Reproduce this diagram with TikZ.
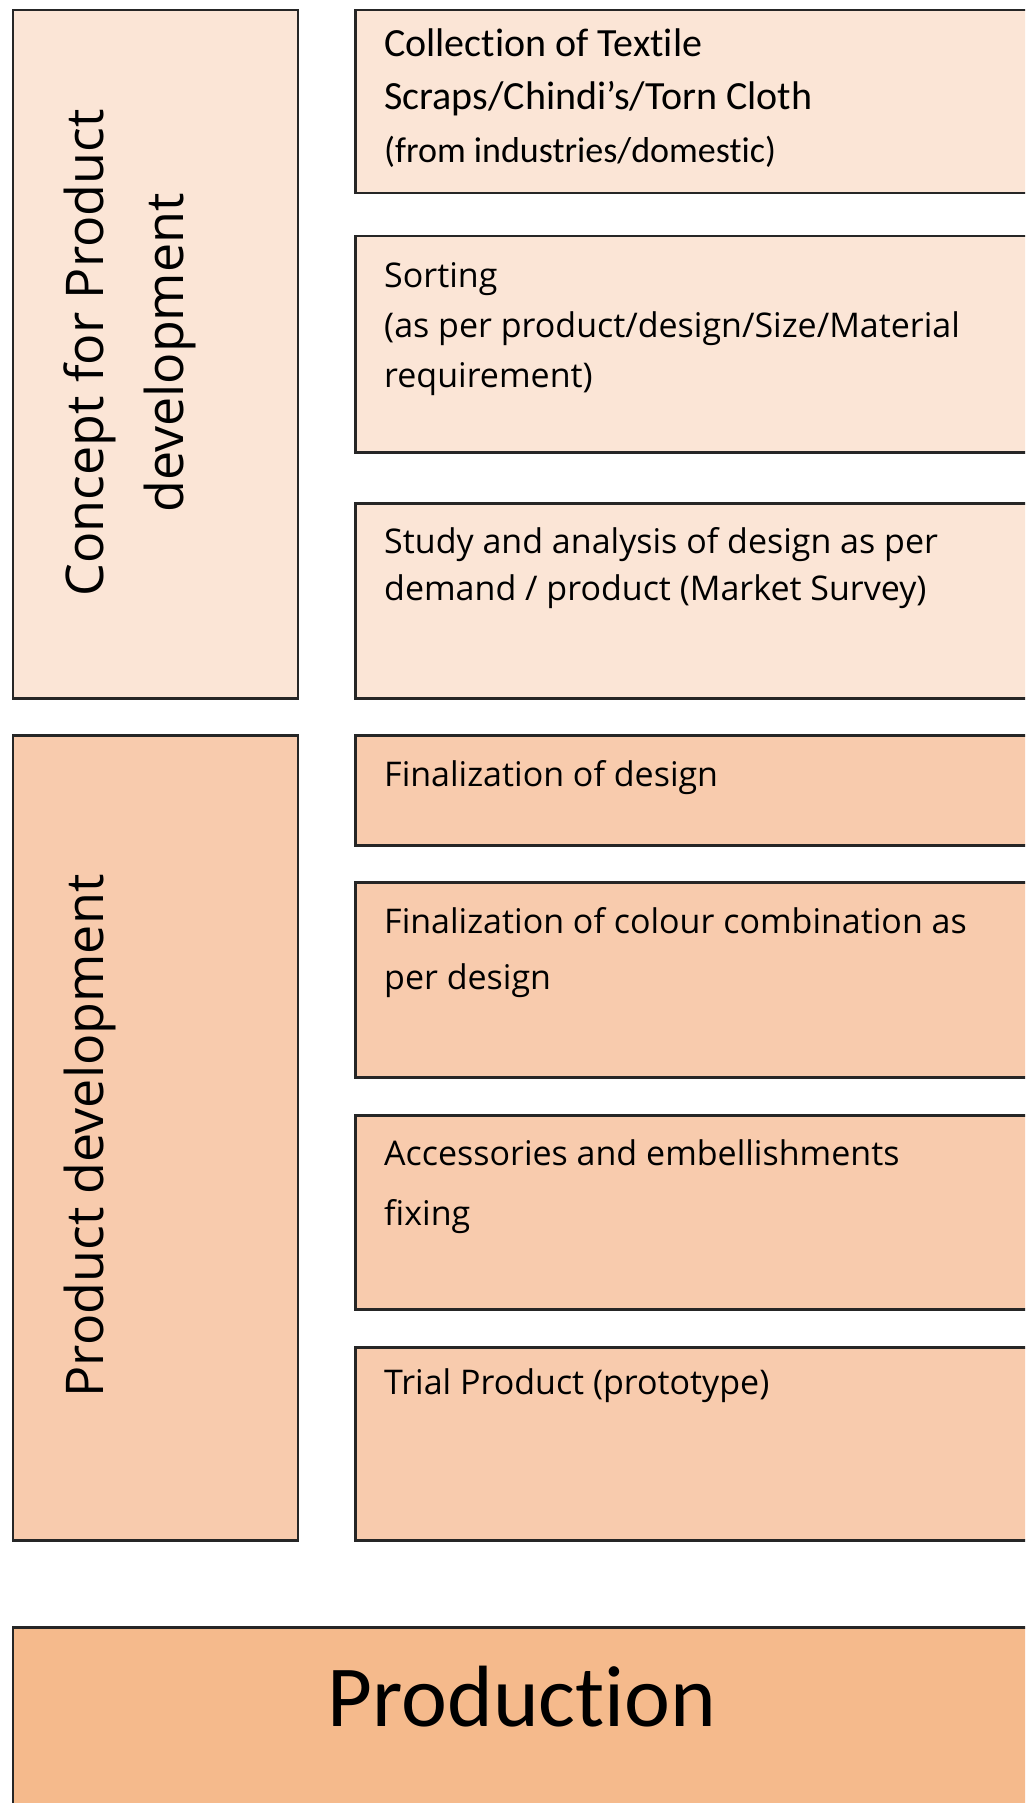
\documentclass[tikz,border=0pt]{standalone}
\usepackage{fontspec}
\setmainfont{Open Sans}
\newfontfamily\calfont[Ligatures=NoCommon]{Carlito}
\usetikzlibrary{positioning}
\definecolor{peachlight}{HTML}{FBE5D6}
\definecolor{peachmid}{HTML}{F8CBAD}
\definecolor{peachdark}{HTML}{F5BA8C}

\begin{document}
\begin{tikzpicture}
        [%%%%%%%%%%%%%%%%%%%%%%%%%%%%%%
        x=1pt,y=-1pt,
        box/.style={rectangle,draw=black!85,line width=2.5pt,anchor=north west,inner sep=0pt},
        steptext/.style={anchor=north west,inner sep=0pt,align=left,font=\fontsize{34}{50}\selectfont},
        sidetext/.style={rotate=90,align=center,inner sep=0pt,font=\fontsize{52}{80}\selectfont},
        ]%%%%%%%%%%%%%%%%%%%%%%%%%%%%%%

        \clip (0,0) rectangle (1025,1803);

        \node[box,fill=peachlight,minimum width=285pt,minimum height=688pt] (concept) at (11.5,9){};
        \node[box,fill=peachmid,minimum width=285pt,minimum height=805pt] (product) at (11.5,734){};

        \foreach \name/\top/\ht/\col in {r1/9/183/peachlight,r2/235/216/peachlight,r3/502/195/peachlight,
          r4/734/110/peachmid,r5/881/195/peachmid,r6/1114/194/peachmid,r7/1346/193/peachmid}
          \node[box,fill=\col,minimum width=700pt,minimum height=\ht pt] (\name) at (354,\top){};

        \node[box,fill=peachdark,minimum width=1040pt,minimum height=220pt] (production) at (11.5,1626){};

        \node[sidetext] (conceptlbl) at (130,353){Concept for Product\\development};
        \node[sidetext] (productlbl) at (90,1136){Product development};

        \node[steptext,font=\calfont\fontsize{40}{53}\selectfont] (t1) at ([xshift=30pt,yshift=-20pt]r1.north west)
          {Collection of Textile\\Scraps/Chindi’s/Torn Cloth\\{\fontsize{36}{53}\selectfont(from industries/domestic)}};
        \node[steptext] (t2) at ([xshift=30pt,yshift=-27pt]r2.north west)
          {Sorting\\(as per product/design/Size/Material\\requirement)};
        \node[steptext,font=\fontsize{34}{47}\selectfont] (t3) at ([xshift=30pt,yshift=-25pt]r3.north west)
          {Study and analysis of design as per\\demand / product (Market Survey)};
        \node[steptext] (t4) at ([xshift=30pt,yshift=-26pt]r4.north west){Finalization of design};
        \node[steptext,font=\fontsize{34}{56}\selectfont] (t5) at ([xshift=30pt,yshift=-26pt]r5.north west)
          {Finalization of colour combination as\\per design};
        \node[steptext,font=\fontsize{34}{60}\selectfont] (t6) at ([xshift=30pt,yshift=-25pt]r6.north west)
          {Accessories and embellishments\\fixing};
        \node[steptext] (t7) at ([xshift=30pt,yshift=-22pt]r7.north west){Trial Product (prototype)};

        \node[font=\calfont\fontsize{87}{100}\selectfont] (prodlbl) at (522,1697){Production};

      \end{tikzpicture}
\end{document}
